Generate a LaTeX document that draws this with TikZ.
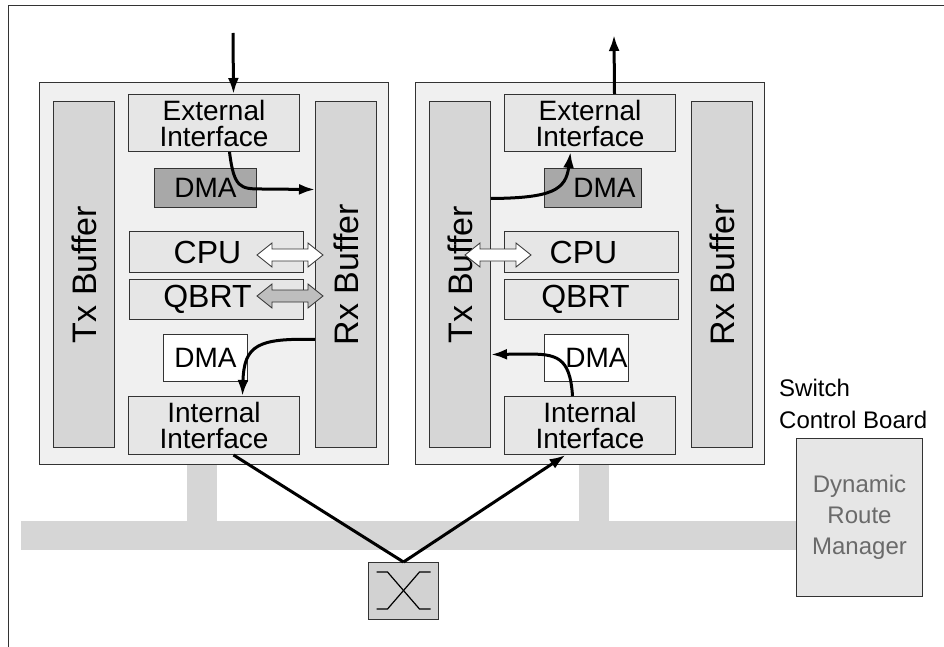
\documentclass[tikz,border=0pt]{standalone}
\usepackage{fontspec}
\setmainfont{Liberation Sans}
\usetikzlibrary{arrows.meta,calc}
\definecolor{boardc}{HTML}{F0F0F0}
\definecolor{bufc}{HTML}{D6D6D6}
\definecolor{boxc}{HTML}{E6E6E6}
\definecolor{dmac}{HTML}{A8A8A8}
\definecolor{edgec}{HTML}{333333}
\definecolor{busc}{HTML}{D6D6D6}
\definecolor{qbrtc}{HTML}{BEBEBE}
\definecolor{swc}{HTML}{D2D2D2}
\definecolor{drmtext}{HTML}{6A6A6A}
\newcommand\dblarrow[4]{%
  \draw[dblar,fill=#4] (#1,#3) -- (#1+15,#3-12) -- (#1+15,#3-6) -- (#2-15,#3-6) -- (#2-15,#3-12) -- (#2,#3)
   -- (#2-15,#3+12) -- (#2-15,#3+6) -- (#1+15,#3+6) -- (#1+15,#3+12) -- cycle;}
\begin{document}
\begin{tikzpicture}[x=1pt,y=-1pt,
  frame/.style={draw=edgec, line width=1pt},
  wh/.style 2 args={minimum width=#1pt, minimum height=#2pt, anchor=north west},
  board/.style={draw=edgec, fill=boardc, line width=1.1pt, inner sep=0},
  buf/.style={draw=edgec, fill=bufc, line width=1pt, inner sep=0, font=\fontsize{34}{34}\selectfont},
  unit/.style={draw=edgec, fill=boxc, line width=1pt, inner sep=0, align=center, font=\fontsize{28}{26}\selectfont},
  big/.style={font=\fontsize{32}{32}\selectfont},
  dmabox/.style={draw=edgec, fill=dmac, line width=1pt, inner sep=0, font=\fontsize{28}{28}\selectfont},
  dmawhite/.style={draw=edgec, fill=white, line width=1pt, inner sep=0, font=\fontsize{28}{28}\selectfont},
  conn/.style={line width=3pt, -{Latex[length=16pt,width=11pt]}},
  plain/.style={line width=3pt},
  dblar/.style={draw=edgec, line width=0.8pt},
  lbl/.style={inner sep=0, font=\fontsize{24}{24}\selectfont},
  busfill/.style={fill=busc}
]
\useasboundingbox (0,0) rectangle (944,647);
% outer frame
\draw[frame] (8,647) -- (8,6) -- (944,6);
% bus and stubs
\fill[busfill] (21,521) rectangle (796,550);
\fill[busfill] (187,463) rectangle (217,521);
\fill[busfill] (579,463) rectangle (609,521);
% boards
\node[board, wh={349}{382}] (b1) at (39,82) {};
\node[board, wh={349}{382}] (b2) at (415,82) {};
% left board
\node[buf, wh={61}{346}] (tx1) at (53,101) {\rotatebox{90}{Tx Buffer}};
\node[buf, wh={61}{346}] (rx1) at (315,101) {\rotatebox{90}{Rx Buffer}};
\node[unit, wh={171}{57}] (ext1) at (128,94) {External\\Interface};
\node[dmabox, wh={102}{39}] (dma1) at (154,168) {DMA};
\node[unit, big, wh={174}{41}] (cpu1) at (129,231) {CPU\hspace{18pt}};
\node[unit, big, wh={174}{40}] (qb1) at (129,279) {QBRT\hspace{18pt}};
\node[dmawhite, wh={84}{47}] (dmb1) at (163,334) {DMA};
\node[unit, wh={171}{58}] (int1) at (128,396) {Internal\\Interface};
% right board
\node[buf, wh={61}{346}] (tx2) at (429,101) {\rotatebox{90}{Tx Buffer}};
\node[buf, wh={61}{346}] (rx2) at (691,101) {\rotatebox{90}{Rx Buffer}};
\node[unit, wh={171}{57}] (ext2) at (504,94) {External\\Interface};
\node[dmabox, wh={97}{39}] (dma2) at (544,168) {\hspace{23pt}DMA};
\node[unit, big, wh={174}{41}] (cpu2) at (504,231) {CPU\hspace{16pt}};
\node[unit, big, wh={174}{40}] (qb2) at (504,279) {QBRT\hspace{12pt}};
\node[dmawhite, wh={84}{47}] (dmb2) at (544,334) {\hspace{20pt}DMA};
\node[unit, wh={171}{58}] (int2) at (504,396) {Internal\\Interface};
% switch
\node[draw=edgec, fill=swc, line width=1pt, wh={70}{57}] (sw) at (368,562) {};
\draw[line width=1.2pt] ([shift={(-27,-19)}]sw.center) -- ++(11,0) -- ([shift={(16,18)}]sw.center) -- ++(11,0);
\draw[line width=1.2pt] ([shift={(-27,18)}]sw.center) -- ++(11,0) -- ([shift={(16,-19)}]sw.center) -- ++(11,0);
% switch control board
\node[lbl, anchor=base west] (swl1) at (779,396) {Switch};
\node[lbl, anchor=base west] (swl2) at (779,428) {Control Board};
\node[draw=edgec, fill=boxc, line width=1pt, wh={126}{158}, align=center, text=drmtext,
      font=\fontsize{24}{31}\selectfont] (drm) at (796,438) {Dynamic\\Route\\Manager};
% connectors
\coordinate (in1) at (233,33);
\coordinate (out2) at (614,35);
\draw[conn] (in1) -- ([xshift=19.5pt]ext1.north);
\draw[conn] ([xshift=24.5pt]ext2.north) -- (out2);
\draw[conn] ([xshift=15.5pt]ext1.south) .. controls (234,188) and (240,189) .. (262,189) -- ([yshift=85pt]rx1.west);
\draw[conn] ([yshift=-65pt]rx1.west) .. controls (258,338) and (244,345) .. ([xshift=28.5pt]int1.north);
\draw[conn] ([yshift=76pt]tx2.east) .. controls (552,198) and (566,190) .. ([xshift=-19.5pt]ext2.south);
\draw[conn] ([xshift=-17.5pt]int2.north) .. controls (570,356) and (556,354) .. (526,354) -- ([yshift=-80pt]tx2.east);
\draw[plain] ([xshift=19.5pt]int1.south) -- (sw.north);
\draw[conn] (sw.north) -- ([xshift=-24.5pt]int2.south);
% double arrows
\dblarrow{257}{323}{255}{white}
\dblarrow{257}{323}{296}{qbrtc}
\dblarrow{465}{531}{255}{white}
\end{tikzpicture}
\end{document}
